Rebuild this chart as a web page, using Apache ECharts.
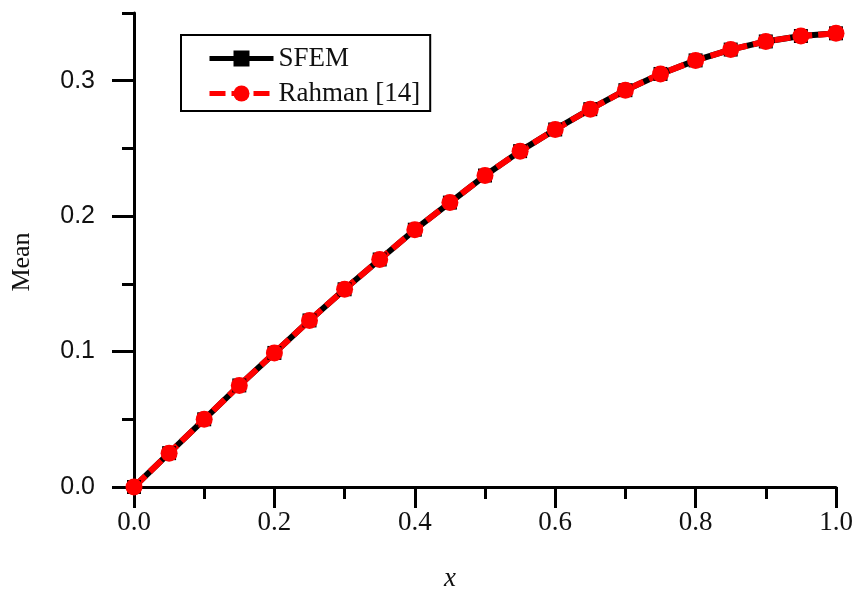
<!DOCTYPE html>
<html>
<head>
<meta charset="utf-8">
<script src="https://cdn.jsdelivr.net/npm/echarts@6/dist/echarts.min.js"></script>
<style>
	html, body { margin: 0; padding: 0; background: #fff; }
	#chart { width: 856px; height: 593px; }
</style>
</head>
<body>
<div id="chart"></div>
<script>
	// x positions and the two series
	const xValues = [0, 0.05, 0.1, 0.15, 0.2, 0.25, 0.3, 0.35, 0.4, 0.45, 0.5, 0.55, 0.6, 0.65, 0.7, 0.75, 0.8, 0.85, 0.9, 0.95, 1.0]
	const sfem = [0, 0.025, 0.05, 0.075, 0.099, 0.123, 0.146, 0.168, 0.19, 0.21, 0.23, 0.248, 0.264, 0.279, 0.293, 0.305, 0.315, 0.323, 0.329, 0.333, 0.335]
	const rahman = [0, 0.025, 0.05, 0.075, 0.099, 0.123, 0.146, 0.168, 0.19, 0.21, 0.23, 0.248, 0.264, 0.279, 0.293, 0.305, 0.315, 0.323, 0.329, 0.333, 0.335]
	const yMajorTicks = [0, 0.1, 0.2, 0.3]
	const yMinorTicks = [0.05, 0.15, 0.25, 0.35]

	const serif = '"Liberation Serif", "DejaVu Serif", serif'
	const sans = '"Liberation Sans", Arial, sans-serif'

	function pairs(ys) {
		return xValues.map(function (x, i) { return [x, ys[i]] })
	}

	const chart = echarts.init(document.getElementById('chart'))
	chart.setOption({
		animation: false,
		grid: { left: 134, right: 20, top: 13, bottom: 106, outerBoundsMode: 'none', containLabel: false },
		legend: {
			left: 181,
			top: 35,
			orient: 'vertical',
			borderColor: '#000',
			borderWidth: 2,
			borderRadius: 0,
			padding: [10, 10, 4, 26],
			itemGap: 8,
			itemWidth: 64,
			itemHeight: 20,
			textStyle: { fontFamily: serif, fontSize: 27, color: '#111' },
			data: [
				{ name: 'SFEM', lineStyle: { width: 5 } },
				{ name: 'Rahman [14]', lineStyle: { width: 5 } }
			]
		},
		xAxis: {
			type: 'value',
			min: 0,
			max: 1,
			interval: 0.2,
			name: 'x',
			nameLocation: 'middle',
			nameGap: 78,
			nameTextStyle: { fontFamily: serif, fontSize: 27, fontStyle: 'italic', color: '#111', padding: [0, 70, 0, 0] },
			axisLine: { onZero: false, lineStyle: { color: '#000', width: 3 } },
			axisTick: { length: 21, lineStyle: { color: '#000', width: 3 } },
			minorTick: { show: true, splitNumber: 2, length: 12, lineStyle: { color: '#000', width: 3 } },
			axisLabel: {
				margin: 22,
				fontFamily: serif,
				fontSize: 27,
				color: '#111',
				formatter: function (v) { return v.toFixed(1) }
			},
			splitLine: { show: false }
		},
		yAxis: [{
			type: 'value',
			min: 0,
			max: 0.35,
			interval: 0.1,
			name: 'Mean',
			nameLocation: 'middle',
			nameGap: 99,
			nameTextStyle: { fontFamily: serif, fontSize: 26, color: '#111', padding: [0, 24, 0, 0] },
			axisLine: { onZero: false, lineStyle: { color: '#000', width: 3 } },
			axisTick: { customValues: yMajorTicks, length: 22, lineStyle: { color: '#000', width: 3 } },
			axisLabel: {
				customValues: yMajorTicks,
				margin: 39,
				fontFamily: sans,
				fontSize: 25,
				color: '#111',
				formatter: function (v) { return v.toFixed(1) }
			},
			splitLine: { show: false }
		}, {
			// minor ticks only
			type: 'value',
			position: 'left',
			min: 0,
			max: 0.35,
			interval: 0.05,
			axisLine: { show: false },
			axisTick: { customValues: yMinorTicks, length: 12, lineStyle: { color: '#000', width: 3 } },
			axisLabel: { show: false },
			splitLine: { show: false }
		}],
		series: [{
			name: 'SFEM',
			type: 'line',
			data: pairs(sfem),
			color: '#000',
			symbol: 'rect',
			symbolSize: 14,
			lineStyle: { color: '#000', width: 6 },
			itemStyle: { color: '#000' }
		}, {
			name: 'Rahman [14]',
			type: 'line',
			data: pairs(rahman),
			color: '#ff0000',
			symbol: 'circle',
			symbolSize: 17,
			lineStyle: { color: '#ff0000', width: 6, type: [16, 6] },
			itemStyle: { color: '#ff0000' }
		}]
	})
</script>
</body>
</html>
